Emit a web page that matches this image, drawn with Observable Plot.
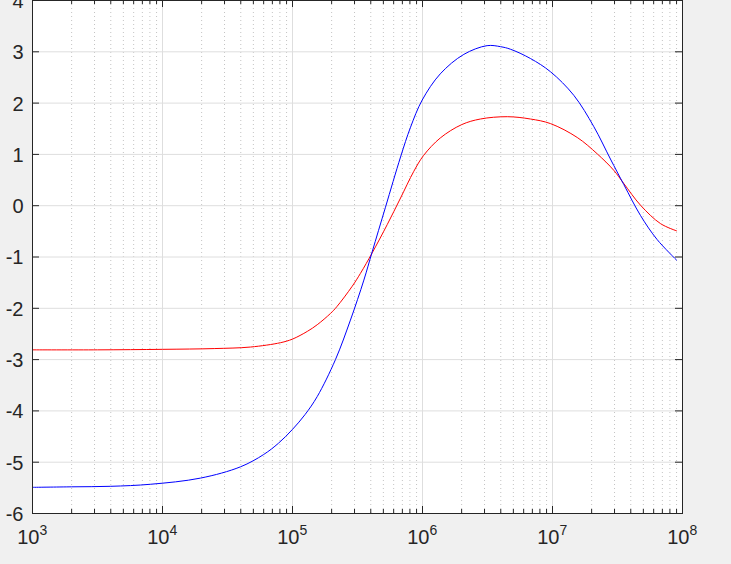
<!DOCTYPE html>
<html>
<head>
<meta charset="utf-8">
<script src="https://cdn.jsdelivr.net/npm/d3@7"></script>
<script src="https://cdn.jsdelivr.net/npm/@observablehq/plot@0.6"></script>
<style>
  html, body { margin: 0; padding: 0; background: #f0f0f0; }
  #chart svg { display: block; }
</style>
</head>
<body>
<div id="chart"></div>
<script>
// ---- data ----
const blueFreq = [1e3, 2e3, 4e3, 8.1e3, 1.96e4, 3.98e4, 6.0e4, 7.8e4, 1e5, 1.25e5, 1.55e5, 2.14e5, 2.79e5, 3.54e5, 4.1e5, 5.19e5, 6.78e5, 8.09e5, 9.95e5, 1.37e6, 2.08e6, 3.14e6, 3.98e6, 4.75e6, 6.76e6, 9.66e6, 1.46e7, 2.08e7, 2.79e7, 3.54e7, 4.75e7, 6.38e7, 9.0e7];
const blueValue = [-5.49, -5.48, -5.47, -5.43, -5.31, -5.09, -4.85, -4.63, -4.36, -4.07, -3.72, -3.00, -2.23, -1.45, -0.90, -0.03, 0.95, 1.53, 2.06, 2.57, 2.95, 3.12, 3.10, 3.05, 2.87, 2.61, 2.15, 1.54, 0.91, 0.41, -0.19, -0.66, -1.06];

const redFreq = [1e3, 3.16e3, 1e4, 2.5e4, 4.75e4, 8.1e4, 1e5, 1.3e5, 1.55e5, 1.96e5, 2.19e5, 2.88e5, 3.33e5, 4.1e5, 5.35e5, 6.78e5, 8.57e5, 1.02e6, 1.37e6, 2.0e6, 2.79e6, 4.49e6, 6.76e6, 9.66e6, 1.55e7, 2.21e7, 2.96e7, 3.54e7, 4.75e7, 6.78e7, 9.0e7];
const redValue = [-2.81, -2.81, -2.80, -2.785, -2.755, -2.67, -2.60, -2.45, -2.32, -2.10, -1.97, -1.57, -1.32, -0.92, -0.37, 0.15, 0.67, 0.98, 1.32, 1.58, 1.69, 1.735, 1.69, 1.60, 1.33, 1.01, 0.69, 0.43, 0.01, -0.35, -0.49];

const xMajorTicks = [1e3, 1e4, 1e5, 1e6, 1e7, 1e8];
const xTickExponents = ["3", "4", "5", "6", "7", "8"];
const xMinorTicks = [
  2e3, 3e3, 4e3, 5e3, 6e3, 7e3, 8e3, 9e3,
  2e4, 3e4, 4e4, 5e4, 6e4, 7e4, 8e4, 9e4,
  2e5, 3e5, 4e5, 5e5, 6e5, 7e5, 8e5, 9e5,
  2e6, 3e6, 4e6, 5e6, 6e6, 7e6, 8e6, 9e6,
  2e7, 3e7, 4e7, 5e7, 6e7, 7e7, 8e7, 9e7
];
const yTicks = [-6, -5, -4, -3, -2, -1, 0, 1, 2, 3, 4];
const yTickLabels = ["-6", "-5", "-4", "-3", "-2", "-1", "0", "1", "2", "3", "4"];

// ---- build tables ----
const blue = blueFreq.map((f, i) => ({f, v: blueValue[i]}));
const red = redFreq.map((f, i) => ({f, v: redValue[i]}));
const xLabels = xMajorTicks.map((t, i) => ({t, e: xTickExponents[i]}));
const yLabels = yTicks.map((t, i) => ({t, s: yTickLabels[i]}));

const W = 731, H = 564;
const mL = 32, mR = 49, mT = 0, mB = 51;
const plotW = W - mL - mR, plotH = H - mT - mB;
const axisColor = "#262626";
const font = "'Liberation Sans', Arial, Helvetica, sans-serif";

const chart = Plot.plot({
  width: W,
  height: H,
  marginLeft: mL, marginRight: mR, marginTop: mT, marginBottom: mB,
  style: {background: "#f0f0f0", fontFamily: font, overflow: "visible"},
  x: {type: "log", domain: [1e3, 1e8], axis: null},
  y: {domain: [-6, 4], axis: null},
  marks: [
    Plot.frame({fill: "white", stroke: null}),
    // minor grid (dotted)
    Plot.ruleX(xMinorTicks, {stroke: "#c4c4c4", strokeDasharray: "1,3", strokeWidth: 1}),
    // major grid
    Plot.ruleX(xMajorTicks, {stroke: "#dedede", strokeWidth: 1}),
    Plot.ruleY(yTicks, {stroke: "#dedede", strokeWidth: 1}),
    // data
    Plot.line(red, {x: "f", y: "v", stroke: "#ff0000", strokeWidth: 1, curve: "catmull-rom"}),
    Plot.line(blue, {x: "f", y: "v", stroke: "#0000ff", strokeWidth: 1, curve: "catmull-rom"}),
    // box
    Plot.frame({stroke: axisColor, strokeWidth: 1}),
    // inward ticks
    Plot.tickY(yTicks, {stroke: axisColor, insetRight: plotW - 7}),
    Plot.tickY(yTicks, {stroke: axisColor, insetLeft: plotW - 7}),
    Plot.tickX(xMajorTicks, {stroke: axisColor, insetTop: plotH - 7}),
    Plot.tickX(xMajorTicks, {stroke: axisColor, insetBottom: plotH - 7}),
    Plot.tickX(xMinorTicks, {stroke: axisColor, insetTop: plotH - 4}),
    Plot.tickX(xMinorTicks, {stroke: axisColor, insetBottom: plotH - 4}),
    // y tick labels
    Plot.text(yLabels, {y: "t", text: "s", frameAnchor: "left", textAnchor: "end", dx: -9, dy: 1,
      fontSize: 20, fill: axisColor, fontFamily: font}),
    // x tick labels: base and exponent
    Plot.text(xLabels, {x: "t", text: () => "10", frameAnchor: "bottom", textAnchor: "end", dx: 7, dy: 30,
      fontSize: 20, fill: axisColor, fontFamily: font}),
    Plot.text(xLabels, {x: "t", text: "e", frameAnchor: "bottom", textAnchor: "start", dx: 7, dy: 21,
      fontSize: 14, fill: axisColor, fontFamily: font})
  ]
});
document.getElementById("chart").appendChild(chart);
</script>
</body>
</html>
